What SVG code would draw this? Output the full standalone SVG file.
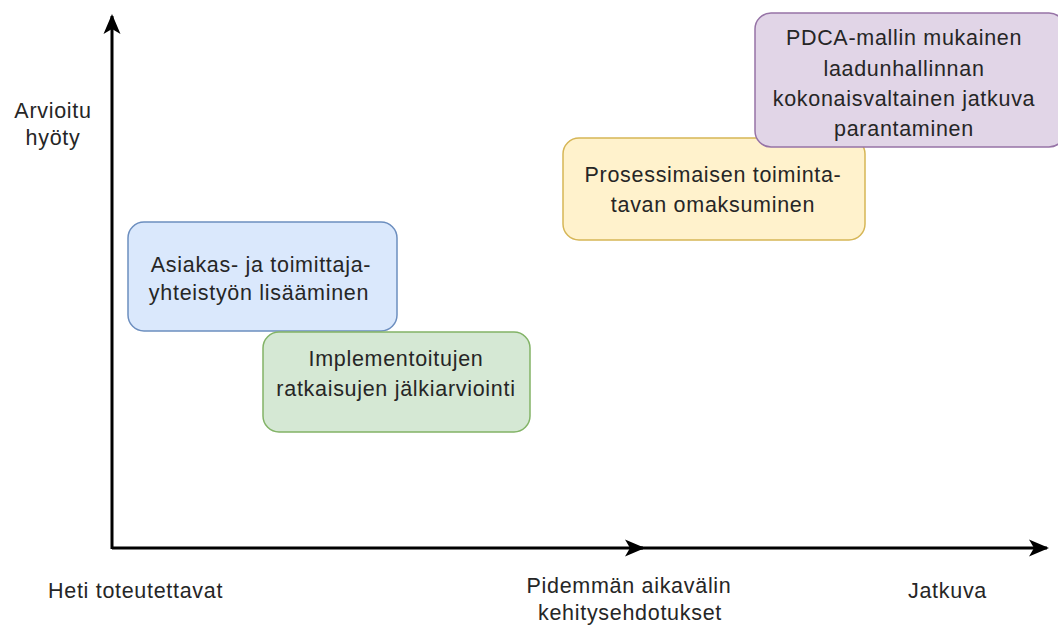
<svg xmlns="http://www.w3.org/2000/svg" width="1058" height="625" viewBox="0 0 1058 625">
  <style>
    text { font-family: "Liberation Sans", Arial, sans-serif; font-size: 21.5px; letter-spacing: 0.7px; fill: #262626; }
    .c { text-anchor: middle; }
    .box { stroke-width: 1.5; }
    .axis { stroke: #000; stroke-width: 3; fill: none; }
  </style>
  <defs>
    <marker id="arrow" viewBox="0 0 20 20" refX="18" refY="10" markerWidth="20" markerHeight="20" markerUnits="userSpaceOnUse" orient="auto">
      <path d="M0,1.5 L20,10 L0,18.5 L5,10 Z" fill="#000"/>
    </marker>
  </defs>
  <rect width="1058" height="625" fill="#fff"/>

  <!-- axes -->
  <g id="connectors">
    <path class="axis" d="M112,549 L112,16" marker-end="url(#arrow)"/>
    <path class="axis" d="M112,548 L643,548" marker-end="url(#arrow)"/>
    <path class="axis" d="M640,548 L1047,548" marker-end="url(#arrow)"/>
  </g>

  <g id="label-y">
    <text class="c" x="53" y="118">Arvioitu</text>
    <text class="c" x="53" y="145">hyöty</text>
  </g>
  <g id="label-now">
    <text x="48" y="598">Heti toteutettavat</text>
  </g>
  <g id="label-long">
    <text class="c" x="629" y="593">Pidemmän aikavälin</text>
    <text class="c" x="630" y="620">kehitysehdotukset</text>
  </g>
  <g id="label-continuous">
    <text x="908" y="598">Jatkuva</text>
  </g>

  <g id="node-customer">
    <rect class="box" x="128" y="222" width="269" height="109" rx="16" fill="#dae8fc" stroke="#6c8ebf"/>
    <text class="c" x="261" y="272">Asiakas- ja toimittaja-</text>
    <text class="c" x="259" y="300">yhteistyön lisääminen</text>
  </g>

  <g id="node-evaluation">
    <rect class="box" x="263" y="332" width="267" height="100" rx="16" fill="#d5e8d4" stroke="#82b366"/>
    <text class="c" x="396" y="366">Implementoitujen</text>
    <text class="c" x="396" y="396">ratkaisujen jälkiarviointi</text>
  </g>

  <g id="node-process">
    <rect class="box" x="563" y="138" width="302" height="102" rx="16" fill="#fff2cc" stroke="#d6b656"/>
    <text class="c" x="713" y="182">Prosessimaisen toiminta-</text>
    <text class="c" x="713" y="212">tavan omaksuminen</text>
  </g>

  <g id="node-pdca">
    <rect class="box" x="755" y="13" width="310" height="134" rx="16" fill="#e1d5e7" stroke="#9673a6"/>
    <text class="c" x="904" y="45">PDCA-mallin mukainen</text>
    <text class="c" x="904" y="76">laadunhallinnan</text>
    <text class="c" x="904" y="106">kokonaisvaltainen jatkuva</text>
    <text class="c" x="904" y="136">parantaminen</text>
  </g>
</svg>
